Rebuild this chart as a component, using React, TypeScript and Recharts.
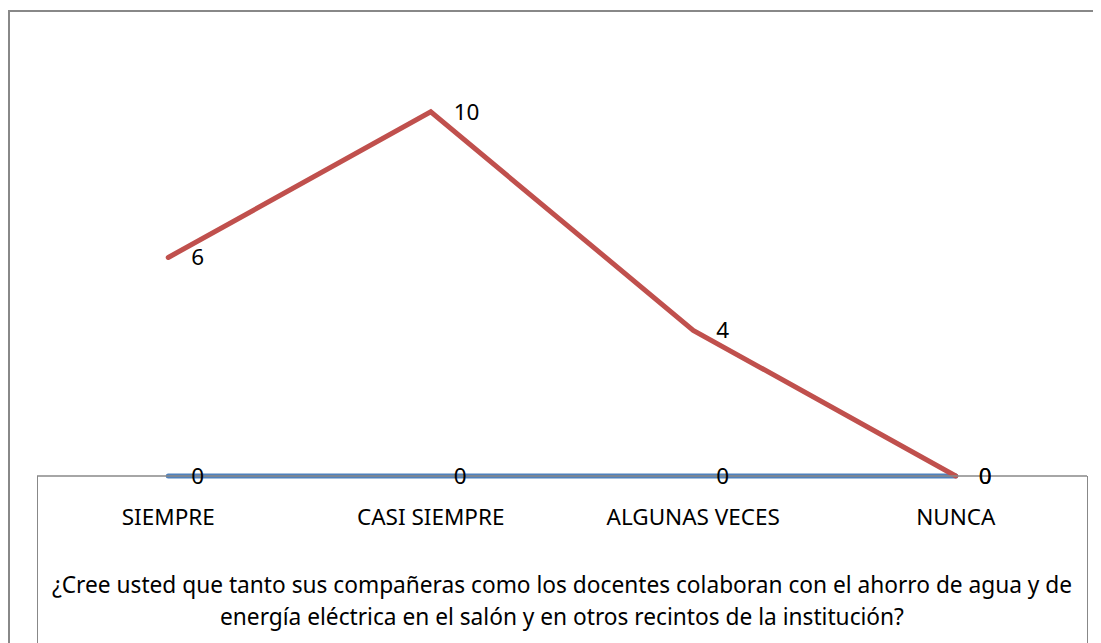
import { LineChart, Line, XAxis, YAxis, LabelList } from "recharts";

const categories = ["SIEMPRE", "CASI SIEMPRE", "ALGUNAS VECES", "NUNCA"];
const serieRoja = [6, 10, 4, 0];
const serieAzul = [0, 0, 0, 0];
const titulo = [
  "¿Cree usted que tanto sus compañeras como los docentes colaboran con el ahorro de agua y de",
  "energía eléctrica en el salón y en otros recintos de la institución?",
];

const data = categories.map((c, i) => ({
  name: c,
  roja: serieRoja[i],
  azul: serieAzul[i],
}));

const FONT = "'Noto Sans', 'Open Sans', sans-serif";

function AxisTitle(props: any) {
  const vb = props.viewBox || {};
  const cx = vb.x + vb.width / 2;
  return (
    <text x={cx} y={vb.y + 117} textAnchor="middle" fontFamily={FONT} fontSize={22.7} fill="#000">
      <tspan x={cx} dy={0}>{titulo[0]}</tspan>
      <tspan x={cx} dy={32}>{titulo[1]}</tspan>
    </text>
  );
}

export default function App() {
  return (
    <div style={{ position: "relative", width: 1093, height: 635, overflow: "hidden", fontFamily: FONT }}>
      {/* outer frame (only top + left visible) */}
      <div
        style={{
          position: "absolute",
          left: 0,
          top: 2,
          width: 1200,
          height: 700,
          borderTop: "2px solid #888",
          borderLeft: "2px solid #888",
        }}
      />
      {/* box under the axis */}
      <div
        style={{
          position: "absolute",
          left: 29,
          top: 468,
          width: 1049,
          height: 300,
          borderLeft: "1px solid #888",
          borderRight: "1px solid #888",
        }}
      />
      <div style={{ position: "absolute", left: 0, top: 0 }}>
        <LineChart width={1093} height={635} data={data} margin={{ top: 31, right: 14, left: 29, bottom: 0 }}>
          <XAxis
            dataKey="name"
            scale="band"
            axisLine={{ stroke: "#888", strokeWidth: 1.5 }}
            tickLine={false}
            height={167}
            tickMargin={27}
            tick={{ fontSize: 22.5, fill: "#000", fontFamily: FONT }}
            interval={0}
            label={<AxisTitle />}
          />
          <YAxis hide domain={[0, 12]} />
          <Line
            dataKey="azul"
            stroke="#4F81BD"
            strokeWidth={5}
            strokeLinecap="round"
            dot={false}
            isAnimationActive={false}
          >
            <LabelList dataKey="azul" position="right" offset={23} fontSize={22.5} fill="#000" fontFamily={FONT} />
          </Line>
          <Line
            dataKey="roja"
            stroke="#C0504D"
            strokeWidth={5}
            strokeLinecap="round"
            strokeLinejoin="miter"
            dot={false}
            isAnimationActive={false}
          >
            <LabelList dataKey="roja" position="right" offset={23} fontSize={22.5} fill="#000" fontFamily={FONT} />
          </Line>
        </LineChart>
      </div>
    </div>
  );
}
